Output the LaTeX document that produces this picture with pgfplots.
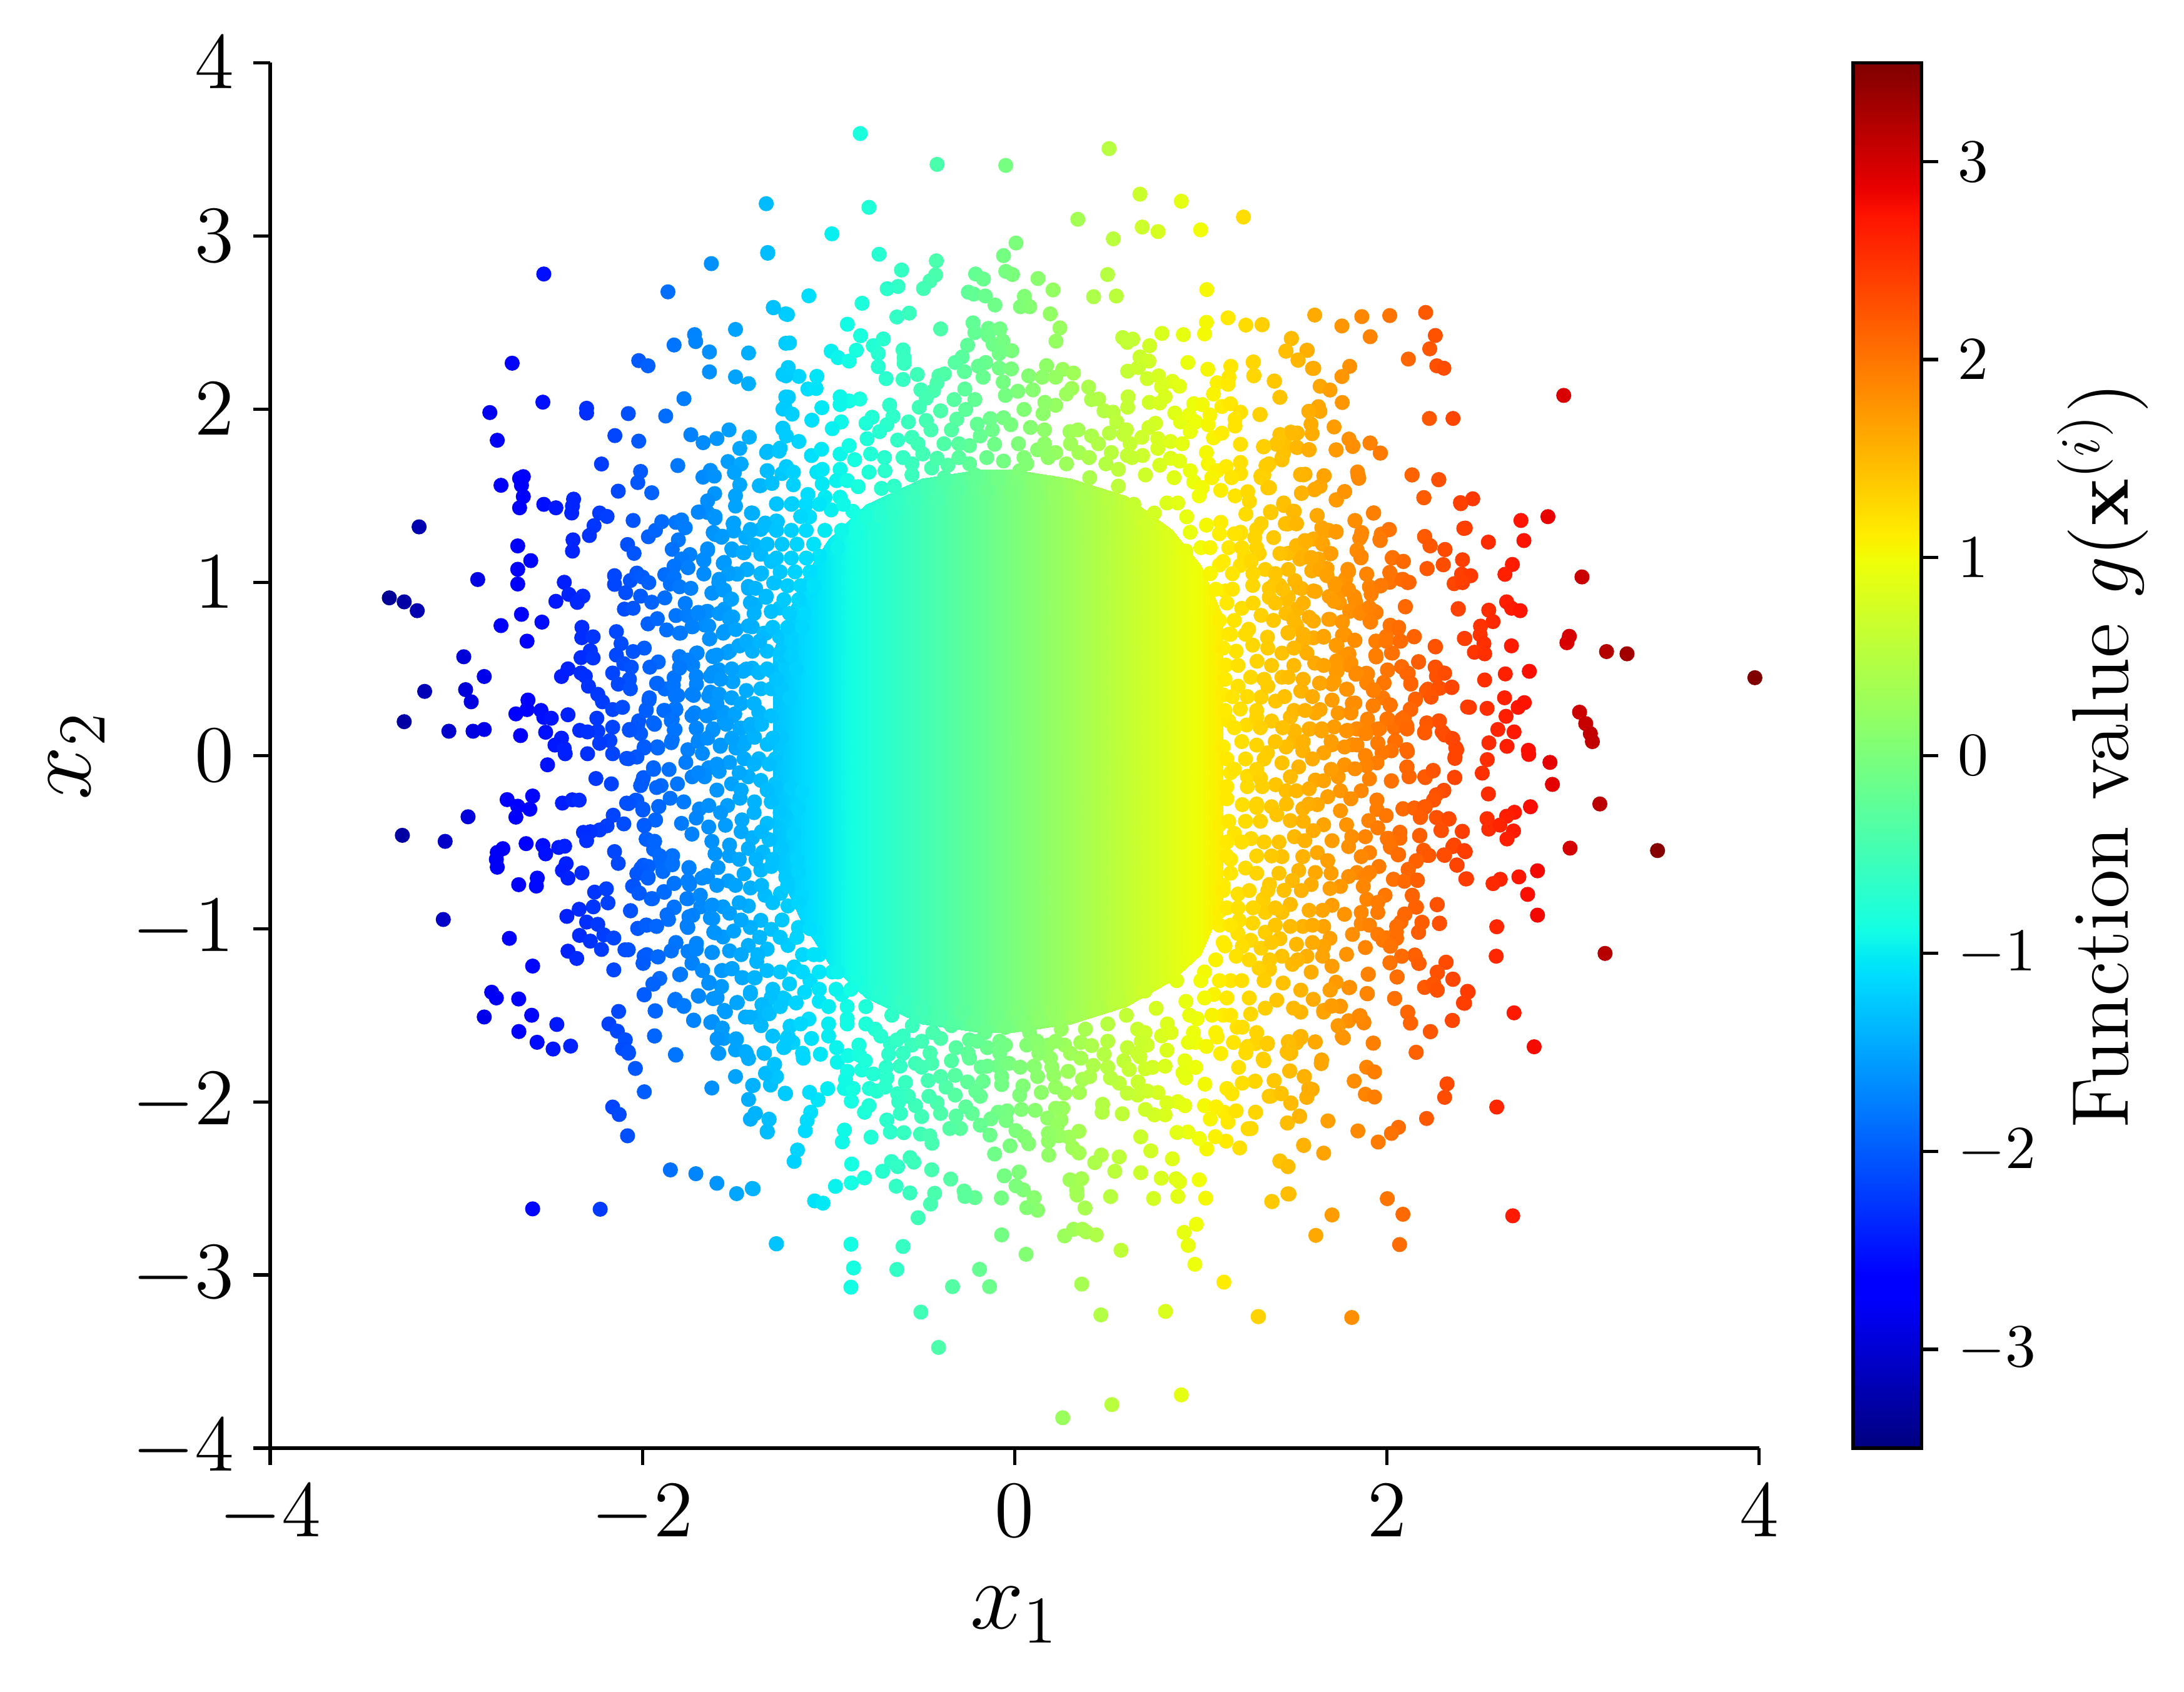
\documentclass[border=0pt]{standalone}
\usepackage{pgfplots}
\pgfplotsset{compat=1.18}

% jet as matplotlib has it
\pgfplotsset{colormap={mpljet}{rgb(0pt)=(0,0,.5); rgb(11pt)=(0,0,1); rgb(12.5pt)=(0,0,1); rgb(34pt)=(0,.86,1); rgb(35pt)=(0,.9,.968); rgb(37.5pt)=(.081,1,.887); rgb(64pt)=(.935,1,.032); rgb(65pt)=(.968,.963,0); rgb(66pt)=(1,.926,0); rgb(89pt)=(1,.074,0); rgb(91pt)=(.909,0,0); rgb(100pt)=(.5,0,0)}}

\begin{document}
\begin{tikzpicture}
\path[use as bounding box] (-48.5pt,-43.75pt) rectangle (343.5pt,260pt);
\begin{axis}[
    scale only axis,
    width=267.25pt, height=248.75pt,
    xmin=-4, xmax=4, ymin=-4, ymax=4,
    axis x line*=bottom, axis y line*=left,
    axis line style={-, line width=0.6pt},
    tick align=outside, tick style={line width=0.6pt, black}, major tick length=3pt,
    xtick={-4,-2,0,2,4}, ytick={-4,-3,-2,-1,0,1,2,3,4},
    tick label style={font=\fontsize{14.4}{16}\selectfont},
    xlabel={$x_1$}, ylabel={$x_2$},
    label style={font=\fontsize{17.28}{18}\selectfont},
    xlabel style={yshift=-1pt},
    ylabel shift=-2pt,
    colormap name=mpljet,
    point meta min=-3.5, point meta max=3.5,
    colorbar,
    colorbar shift/.style={xshift=10pt},
    colorbar style={
        scale only axis, width=12.25pt,
        ytick={-3,-2,-1,0,1,2,3},
        ytick pos=right,
        tick align=outside, major tick length=3pt,
        tick style={line width=0.6pt, black},
        axis line style={line width=0.6pt},
        yticklabel pos=right,
        tick label style={font=\fontsize{10.95}{12}\selectfont},
        ylabel={Function value $g(\mathbf{x}^{(i)})$},
        ylabel style={font=\fontsize{14.4}{16}\selectfont},
        ylabel shift=-3pt,
        samples=128,
    },
    scatter/use mapped color={draw=mapped color, fill=mapped color},
]
% the saturated core, where single dots cannot be told apart
\addplot[surf, shader=interp, mesh/rows=3, point meta=x, forget plot] table[row sep=\\] {
x y\\
-1.3 -0.6\\ -1.15 -0.95\\ -1.0 -1.2\\ -0.8 -1.4\\ -0.5 -1.55\\ -0.2 -1.6\\ 0.0 -1.6\\ 0.3 -1.55\\ 0.6 -1.45\\ 0.85 -1.3\\ 1.0 -1.15\\ 1.12 -0.85\\
-1.3 0\\ -1.15 0\\ -1.0 0\\ -0.8 0\\ -0.5 0\\ -0.2 0\\ 0.0 0\\ 0.3 0\\ 0.6 0\\ 0.85 0\\ 1.0 0\\ 1.12 0\\
-1.3 0.6\\ -1.15 1.0\\ -1.0 1.25\\ -0.8 1.45\\ -0.5 1.6\\ -0.2 1.65\\ 0.0 1.65\\ 0.3 1.6\\ 0.6 1.5\\ 0.85 1.3\\ 1.0 1.1\\ 1.12 0.8\\
};
\addplot[scatter, only marks, mark=*, mark size=1.15pt, scatter src=x, forget plot] table[row sep=\\] {
x y\\
-2.53 2.78\\ -2.70 2.265\\ -2.535 2.04\\ -2.82 1.98\\ -2.78 1.82\\ -2.76 1.56\\ -2.64 1.61\\ -2.66 1.60\\ -2.65 1.56\\ -2.64 1.495\\ -2.66 1.43\\ -2.53 1.45\\ -2.465 1.43\\ -2.37 1.48\\ -2.376 1.44\\ -2.38 1.40\\ -3.20 1.32\\ -2.67 1.21\\ -2.60 1.125\\ -2.67 1.075\\ -2.67 0.99\\ -2.885 1.016\\ -3.36 0.91\\ -3.28 0.887\\ -3.21 0.836\\ -2.65 0.815\\ -2.54 0.77\\ -2.76 0.75\\ -2.62 0.66\\ -2.96 0.57\\ -2.85 0.456\\ -3.17 0.37\\ -2.95 0.38\\ -2.92 0.31\\ -3.28 0.195\\ -3.04 0.14\\ -2.91 0.14\\ -2.85 0.15\\ -2.655 0.115\\ -2.68 0.24\\ -2.62 0.265\\ -2.615 0.32\\ -2.545 0.26\\ -2.53 0.22\\ -2.49 0.215\\ -2.40 0.235\\ -2.52 0.134\\ -2.435 0.10\\ -2.47 0.06\\ -2.42 0.04\\
-2.42 1.0\\ -2.395 0.93\\ -2.32 0.92\\ -2.35 0.884\\ -2.465 0.89\\ -2.325 0.74\\ -2.326 0.68\\ -2.265 0.685\\ -2.14 0.715\\ -2.115 0.646\\ -1.99 0.62\\ -2.05 0.60\\ -2.28 0.605\\ -2.33 0.565\\ -2.265 0.563\\ -2.14 0.58\\ -2.10 0.53\\ -2.06 0.51\\ -1.915 0.54\\ -1.96 0.51\\ -2.16 0.476\\ -2.40 0.50\\ -2.435 0.456\\ -2.33 0.476\\ -2.307 0.458\\ -2.29 0.40\\ -2.24 0.353\\ -2.215 0.31\\ -2.16 0.265\\ -2.107 0.278\\ -2.07 0.44\\ -2.13 0.412\\ -2.065 0.385\\ -2.245 0.215\\ -2.16 0.163\\ -2.24 0.14\\ -2.337 0.145\\ -2.295 0.136\\ -2.175 0.086\\ -2.23 0.07\\ -2.07 0.15\\
-2.30 2.005\\ -2.30 1.977\\ -2.076 1.974\\ -1.875 1.96\\ -1.777 2.06\\ -2.148 1.847\\ -2.02 1.815\\ -2.22 1.683\\ -2.01 1.64\\ -2.025 1.576\\ -1.95 1.517\\ -2.13 1.526\\ -1.81 1.674\\ -2.23 1.40\\ -2.19 1.38\\ -2.26 1.327\\ -2.285 1.27\\ -2.373 1.245\\ -2.376 1.18\\ -2.05 1.357\\ -1.968 1.263\\ -1.93 1.30\\ -1.896 1.35\\ -1.82 1.346\\ -1.79 1.36\\ -1.77 1.315\\ -1.807 1.245\\ -1.84 1.19\\ -2.08 1.218\\ -2.045 1.167\\ -1.745 1.16\\ -1.79 1.134\\ -1.83 1.093\\ -1.755 1.084\\ -2.15 1.038\\ -2.15 0.988\\ -2.065 1.01\\ -2.03 1.053\\ -2.0 1.03\\ -1.966 0.998\\ -2.09 0.94\\ -2.01 0.92\\ -1.95 0.885\\ -1.88 0.91\\ -2.097 0.845\\ -2.05 0.85\\ -1.97 0.76\\ -1.92 0.79\\ -1.87 0.725\\ -1.795 0.707\\ -1.82 0.808\\ -1.76 0.808\\ -1.77 0.878\\ -1.73 0.744\\ -1.88 1.044\\ -1.83 1.03\\ -1.85 0.99\\ -1.80 0.974\\ -1.74 0.965\\
-1.63 2.84\\ -1.863 2.677\\ -1.327 2.90\\ -1.296 2.585\\ -1.23 2.55\\ -1.50 2.46\\ -1.72 2.43\\ -1.714 2.39\\ -1.83 2.37\\ -1.64 2.33\\ -1.43 2.324\\ -2.02 2.28\\ -1.97 2.25\\ -1.64 2.215\\ -1.50 2.186\\ -1.43 2.147\\ -1.245 2.2\\ -1.23 2.38\\ -1.74 1.852\\ -1.674 1.806\\ -1.60 1.83\\ -1.535 1.88\\ -1.426 1.838\\ -1.477 1.773\\ -1.245 2.0\\ -1.245 1.885\\ -1.23 2.07\\ -1.327 1.757\\ -1.26 1.775\\ -1.54 1.697\\ -1.47 1.683\\ -1.506 1.633\\ -1.33 1.644\\ -1.635 1.646\\ -1.675 1.607\\ -1.614 1.613\\ -1.477 1.563\\ -1.365 1.558\\ -1.305 1.572\\ -1.25 1.628\\ -1.612 1.512\\ -1.65 1.47\\ -1.50 1.50\\ -1.50 1.44\\ -1.28 1.453\\ -1.414 1.40\\ -1.695 1.406\\ -1.65 1.403\\ -1.61 1.37\\ -1.51 1.342\\ -1.51 1.296\\ -1.62 1.287\\ -1.575 1.26\\ -1.34 1.342\\ -1.275 1.35\\ -1.42 1.305\\ -1.365 1.305\\ -1.445 1.26\\ -1.65 1.185\\ -1.515 1.185\\ -1.455 1.17\\ -1.67 1.126\\ -1.56 1.115\\ -1.44 1.075\\ -1.67 1.05\\ -1.533 1.053\\ -1.49 1.047\\ -1.36 1.053\\ -1.29 0.996\\ -1.59 1.0\\ -1.56 0.955\\ -1.625 0.937\\ -1.527 0.90\\ -1.43 0.965\\ -1.335 0.92\\ -1.395 0.87\\ -1.56 0.845\\ -1.65 0.832\\ -1.585 0.82\\ -1.515 0.80\\ -1.70 0.826\\ -1.665 0.753\\ -1.56 0.716\\ -1.64 0.673\\ -1.477 0.633\\ -1.41 0.743\\ -1.335 0.707\\ -1.545 0.593\\ -1.71 0.59\\ -1.80 0.568\\ -1.73 0.522\\ -1.62 0.574\\ -1.59 0.495\\ -1.80 0.504\\ -1.83 0.449\\ -1.92 0.417\\ -1.88 0.384\\ -1.71 0.412\\ -1.635 0.458\\ -1.46 0.486\\ -1.41 0.504\\ -1.515 0.427\\ -1.81 0.347\\ -1.725 0.347\\ -1.635 0.366\\ -1.965 0.32\\ -1.98 0.265\\ -1.88 0.26\\ -1.82 0.265\\ -1.935 0.18\\ -2.02 0.20\\ -1.845 0.20\\ -1.825 0.15\\ -1.72 0.246\\ -1.62 0.246\\ -1.71 0.158\\ -1.62 0.154\\ -1.56 0.20\\ -1.47 0.158\\ -1.515 0.228\\ -1.455 0.08\\ -1.58 0.06\\ -1.70 0.08\\ -1.84 0.09\\ -1.92 0.05\\ -1.99 0.05\\ -2.01 0.126\\
-2.51 -0.054\\ -2.25 -0.133\\ -2.167 -0.164\\ -2.085 -0.017\\ -2.03 -0.008\\ -2.16 0.01\\ -2.295 0.01\\ -2.415 0.01\\ -2.01 -0.174\\ -1.995 -0.128\\ -1.94 -0.08\\ -1.90 -0.174\\ -2.727 -0.255\\ -2.59 -0.234\\ -2.67 -0.293\\ -2.605 -0.31\\ -2.68 -0.356\\ -2.937 -0.354\\ -2.43 -0.275\\ -2.377 -0.256\\ -2.34 -0.258\\ -3.29 -0.461\\ -3.06 -0.496\\ -2.085 -0.275\\ -2.03 -0.26\\ -1.998 -0.315\\ -1.912 -0.295\\ -1.93 -0.373\\ -2.157 -0.345\\ -2.10 -0.395\\ -2.19 -0.406\\ -2.23 -0.43\\ -2.28 -0.44\\ -2.317 -0.444\\ -2.30 -0.492\\ -1.99 -0.406\\ -1.98 -0.483\\ -1.935 -0.496\\ -1.94 -0.542\\ -2.75 -0.538\\ -2.78 -0.56\\ -2.785 -0.6\\ -2.78 -0.645\\ -2.625 -0.509\\ -2.535 -0.52\\ -2.52 -0.568\\ -2.45 -0.531\\ -2.418 -0.524\\ -2.15 -0.555\\ -2.13 -0.623\\ -2.41 -0.625\\ -2.43 -0.664\\ -2.40 -0.708\\ -2.325 -0.678\\ -2.565 -0.708\\ -2.57 -0.754\\ -2.665 -0.746\\ -2.257 -0.789\\ -2.194 -0.77\\ -2.264 -0.874\\ -2.185 -0.851\\ -2.34 -0.888\\ -2.406 -0.929\\ -3.07 -0.947\\ -2.715 -1.056\\ -2.30 -0.962\\ -2.24 -0.975\\ -2.207 -1.036\\ -2.154 -1.054\\ -2.338 -1.039\\ -2.28 -1.072\\ -2.22 -1.12\\ -2.40 -1.13\\ -2.353 -1.172\\ -2.094 -1.122\\ -2.59 -1.216\\ -2.154 -1.238\\ -2.81 -1.367\\ -2.785 -1.40\\ -2.665 -1.406\\ -2.85 -1.51\\ -2.595 -1.50\\ -2.46 -1.553\\ -2.664 -1.594\\ -2.566 -1.656\\ -2.48 -1.695\\ -2.386 -1.678\\ -2.128 -1.478\\ -2.18 -1.55\\ -2.135 -1.592\\ -2.092 -1.642\\ -2.107 -1.693\\ -2.076 -1.712\\ -2.038 -1.807\\ -1.99 -1.942\\ -2.16 -2.03\\ -2.125 -2.073\\ -2.08 -2.196\\ -1.85 -2.393\\ -1.713 -2.415\\ -1.60 -2.47\\ -1.494 -2.53\\ -1.41 -2.50\\ -2.59 -2.618\\ -2.227 -2.62\\ -1.28 -2.82\\ -1.82 -1.73\\ -1.93 -1.476\\ -1.935 -1.62\\ -1.99 -1.382\\ -1.725 -1.53\\ -1.94 -1.32\\ -1.908 -1.288\\ -1.995 -1.2\\ -1.977 -1.15\\ -1.915 -1.163\\ -1.845 -1.128\\ -1.82 -1.08\\ -2.025 -0.999\\ -1.977 -0.98\\ -1.925 -0.986\\ -2.064 -0.897\\ -1.83 -0.875\\ -1.86 -0.947\\ -2.047 -0.754\\ -2.017 -0.794\\ -2.025 -0.68\\ -1.97 -0.708\\ -1.995 -0.634\\ -1.905 -0.616\\ -1.838 -0.579\\ -1.838 -0.625\\ -1.89 -0.67\\ -1.83 -0.739\\ -1.882 -0.79\\ -1.953 -0.827\\ -1.75 -0.647\\ -1.755 -0.827\\ -1.687 -0.874\\ -1.76 -0.984\\ -1.73 -0.923\\ -1.68 -0.708\\ -1.65 -0.70\\ -1.747 -0.745\\ -1.635 -0.938\\ -1.624 -0.864\\ -1.567 -0.874\\ -1.617 -1.02\\ -1.567 -1.048\\ -1.71 -1.085\\ -1.755 -1.131\\ -1.624 -1.137\\ -1.677 -1.242\\ -1.732 -1.196\\ -1.80 -1.266\\ -1.575 -1.242\\ -1.518 -1.23\\ -1.462 -1.283\\ -1.395 -1.284\\ -1.575 -1.334\\ -1.642 -1.31\\ -1.698 -1.39\\ -1.62 -1.404\\ -1.827 -1.417\\ -1.777 -1.444\\ -1.42 -1.367\\ -1.49 -1.426\\ -1.56 -1.472\\ -1.34 -1.444\\ -1.32 -1.49\\ -1.245 -1.40\\ -1.624 -1.537\\ -1.575 -1.583\\ -1.563 -1.634\\ -1.447 -1.51\\ -1.377 -1.51\\ -1.363 -1.56\\ -1.495 -1.64\\ -1.50 -1.70\\ -1.447 -1.71\\ -1.43 -1.75\\ -1.59 -1.72\\ -1.345 -1.72\\ -1.29 -1.784\\ -1.237 -1.684\\ -1.50 -1.854\\ -1.335 -1.835\\ -1.28 -1.855\\ -1.312 -1.90\\ -1.408 -1.905\\ -1.627 -1.92\\ -1.233 -1.95\\ -1.43 -1.986\\ -1.395 -2.067\\ -1.42 -2.10\\ -1.32 -2.10\\ -1.33 -2.17\\
1.33 2.488\\ 1.612 2.543\\ 1.758 2.48\\ 1.865 2.534\\ 2.015 2.54\\ 2.208 2.558\\ 2.26 2.425\\ 2.23 2.348\\ 1.91 2.418\\ 1.486 2.407\\ 1.457 2.335\\ 1.572 2.339\\ 1.523 2.282\\ 1.283 2.272\\ 1.286 2.195\\ 1.607 2.235\\ 1.80 2.247\\ 1.758 2.188\\ 2.115 2.289\\ 2.268 2.25\\ 2.306 2.236\\ 1.394 2.162\\ 1.641 2.132\\ 1.694 2.11\\ 1.425 2.068\\ 1.76 2.038\\ 2.95 2.079\\ 2.228 1.946\\ 2.355 1.946\\ 1.317 1.968\\ 1.583 1.987\\ 1.632 2.014\\ 1.64 1.987\\ 1.592 1.913\\ 1.598 1.858\\ 1.716 1.897\\ 1.426 1.852\\ 1.483 1.867\\ 1.518 1.862\\ 1.337 1.782\\ 1.41 1.803\\ 1.45 1.803\\ 1.516 1.779\\ 1.581 1.766\\ 1.445 1.747\\ 1.436 1.707\\ 1.727 1.764\\ 1.796 1.827\\ 1.816 1.784\\ 1.909 1.804\\ 1.964 1.746\\ 1.35 1.674\\ 1.323 1.615\\ 1.536 1.622\\ 1.56 1.624\\ 1.661 1.615\\ 1.842 1.637\\ 1.849 1.60\\ 2.135 1.62\\ 2.279 1.593\\ 1.641 1.554\\ 1.61 1.534\\ 1.541 1.513\\ 1.773 1.524\\ 1.729 1.475\\ 2.199 1.488\\ 2.395 1.46\\ 2.461 1.482\\ 2.72 1.357\\ 2.865 1.379\\ 1.36 1.545\\ 1.445 1.449\\ 1.496 1.41\\ 1.514 1.338\\ 1.468 1.337\\ 1.625 1.386\\ 1.829 1.355\\ 1.927 1.399\\ 2.421 1.313\\ 2.545 1.232\\ 2.736 1.241\\ 2.202 1.263\\ 2.233 1.21\\ 2.312 1.189\\ 2.011 1.305\\ 1.969 1.278\\ 1.964 1.241\\ 1.864 1.287\\ 1.854 1.254\\ 1.65 1.315\\ 1.727 1.29\\ 1.687 1.30\\ 1.605 1.25\\ 1.654 1.22\\ 1.559 1.241\\ 1.541 1.204\\ 1.696 1.165\\ 1.84 1.186\\ 1.86 1.141\\ 2.028 1.14\\ 2.088 1.121\\ 2.406 1.13\\ 2.303 1.101\\ 2.215 1.079\\ 2.674 1.103\\ 2.634 1.046\\ 3.048 1.031\\ 2.401 1.047\\ 2.45 1.038\\ 2.361 0.992\\ 2.406 0.998\\ 1.589 1.14\\ 1.532 1.134\\ 1.632 1.134\\ 1.468 1.167\\ 1.678 1.08\\ 1.596 1.066\\ 1.678 1.038\\ 1.79 1.075\\ 1.778 1.02\\ 1.891 1.047\\ 2.015 1.057\\ 2.015 1.0\\ 2.079 1.016\\ 2.111 0.998\\ 1.966 0.979\\ 1.906 0.974\\ 1.915 0.931\\ 1.72 0.992\\ 1.505 1.01\\ 1.541 0.964\\ 1.368 0.964\\ 1.423 0.983\\ 1.605 0.95\\ 1.69 0.918\\ 1.76 0.955\\ 1.824 0.918\\ 1.833 0.881\\ 1.368 0.913\\ 1.465 0.9\\ 1.745 0.881\\ 2.643 0.887\\ 2.67 0.85\\ 2.716 0.836\\ 2.547 0.839\\ 2.383 0.845\\ 2.099 0.86\\ 1.909 0.845\\ 1.942 0.826\\ 2.57 0.773\\ 2.503 0.747\\ 2.501 0.697\\ 2.419 0.675\\ 2.98 0.688\\ 2.967 0.651\\ 2.669 0.633\\ 3.18 0.60\\ 3.29 0.587\\ 2.521 0.646\\ 2.47 0.596\\ 2.525 0.587\\ 3.977 0.449\\ 2.636 0.471\\ 2.765 0.486\\ 2.525 0.436\\ 2.261 0.627\\ 2.146 0.685\\ 2.06 0.731\\ 2.017 0.751\\ 1.997 0.688\\ 1.942 0.66\\ 2.07 0.66\\ 2.024 0.592\\ 1.942 0.569\\ 1.687 0.786\\ 1.76 0.771\\ 1.805 0.836\\ 1.86 0.826\\ 1.909 0.775\\ 1.518 0.845\\ 1.605 0.776\\ 1.514 0.75\\ 1.468 0.709\\ 1.605 0.679\\ 1.66 0.688\\ 1.774 0.697\\ 1.827 0.666\\ 1.732 0.633\\ 1.796 0.587\\ 1.729 0.546\\ 1.796 0.522\\ 1.732 0.486\\ 1.833 0.469\\ 1.896 0.471\\ 1.891 0.421\\ 2.004 0.491\\ 2.079 0.513\\ 2.106 0.476\\ 2.17 0.539\\ 2.261 0.51\\ 2.304 0.476\\ 2.266 0.458\\ 2.128 0.412\\ 1.982 0.421\\ 1.787 0.382\\ 1.927 0.375\\ 1.978 0.333\\ 2.017 0.292\\ 2.212 0.373\\ 2.284 0.388\\ 2.348 0.392\\ 2.237 0.338\\ 2.153 0.32\\ 2.128 0.265\\ 1.926 0.288\\ 1.814 0.301\\ 1.807 0.25\\ 1.641 0.417\\ 1.705 0.412\\ 1.541 0.371\\ 1.705 0.32\\ 1.641 0.265\\ 2.443 0.278\\ 2.538 0.272\\ 2.632 0.333\\ 2.705 0.278\\ 2.738 0.305\\ 2.64 0.226\\ 2.596 0.15\\ 2.683 0.136\\ 2.548 0.073\\ 2.645 0.053\\ 2.76 0.03\\ 3.035 0.25\\ 3.068 0.184\\ 3.093 0.126\\ 3.104 0.08\\ 1.896 0.21\\ 1.838 0.154\\ 2.006 0.21\\ 1.96 0.154\\ 2.04 0.16\\ 2.106 0.173\\ 2.093 0.22\\ 2.215 0.187\\ 2.202 0.136\\ 2.279 0.2\\ 2.297 0.136\\ 2.348 0.099\\ 2.37 0.044\\ 2.042 0.08\\ 1.951 0.071\\ 2.106 0.034\\ 1.887 0.126\\ 1.787 0.145\\ 1.587 0.154\\ 1.65 0.154\\ 1.496 0.08\\ 1.705 0.062\\ 1.814 0.062\\
2.365 -0.017\\ 2.539 -0.024\\ 2.762 0.006\\ 2.876 -0.04\\ 2.889 -0.167\\ 2.512 -0.102\\ 2.365 -0.128\\ 2.248 -0.086\\ 2.206 -0.128\\ 2.119 -0.121\\ 2.106 -0.068\\ 2.024 -0.148\\ 2.545 -0.222\\ 3.144 -0.28\\ 2.771 -0.296\\ 2.685 -0.328\\ 2.643 -0.351\\ 2.538 -0.365\\ 2.547 -0.425\\ 2.607 -0.402\\ 2.68 -0.436\\ 2.645 -0.482\\ 2.984 -0.535\\ 3.454 -0.549\\ 2.306 -0.201\\ 2.252 -0.257\\ 2.206 -0.298\\ 2.146 -0.305\\ 2.086 -0.309\\ 2.179 -0.358\\ 2.266 -0.358\\ 2.334 -0.367\\ 2.29 -0.432\\ 2.405 -0.438\\ 2.177 -0.461\\ 2.07 -0.443\\ 2.006 -0.478\\ 2.07 -0.478\\ 2.02 -0.53\\ 2.06 -0.574\\ 2.361 -0.517\\ 2.421 -0.556\\ 2.306 -0.574\\ 2.215 -0.577\\ 2.197 -0.547\\ 2.157 -0.611\\ 2.375 -0.632\\ 2.428 -0.712\\ 2.115 -0.657\\ 2.035 -0.715\\ 2.093 -0.726\\ 2.162 -0.719\\ 2.609 -0.715\\ 2.57 -0.74\\ 2.709 -0.701\\ 2.809 -0.666\\ 2.756 -0.802\\ 2.809 -0.922\\ 2.59 -0.989\\ 2.587 -1.159\\ 3.172 -1.143\\ 2.27 -0.862\\ 2.137 -0.811\\ 2.153 -0.874\\ 2.095 -0.915\\ 2.188 -0.963\\ 2.283 -0.968\\ 2.17 -1.021\\ 2.075 -0.961\\ 2.051 -1.019\\ 1.997 -1.053\\ 2.02 -1.099\\ 2.079 -1.159\\ 2.15 -1.152\\ 2.17 -1.2\\ 2.017 -1.198\\ 2.317 -1.194\\ 2.272 -1.254\\ 2.355 -1.293\\ 2.202 -1.339\\ 2.252 -1.318\\ 2.27 -1.355\\ 2.055 -1.279\\ 2.436 -1.366\\ 2.417 -1.431\\ 2.042 -1.403\\ 2.111 -1.482\\ 2.126 -1.546\\ 2.352 -1.53\\ 2.233 -1.594\\ 2.683 -1.486\\ 2.157 -1.714\\ 2.791 -1.682\\ 1.927 -1.661\\ 1.9 -1.263\\ 1.895 -1.376\\ 1.796 -1.341\\ 1.696 -1.353\\ 1.749 -1.449\\ 1.702 -1.445\\ 1.66 -1.472\\ 1.856 -1.502\\ 1.876 -1.544\\ 1.793 -1.532\\ 1.738 -1.56\\ 1.76 -1.624\\ 1.614 -1.654\\ 1.538 -1.622\\ 1.472 -1.652\\ 1.514 -1.659\\ 1.355 -1.666\\ 1.295 -1.663\\ 1.477 -1.721\\ 1.647 -1.779\\ 1.337 -1.76\\ 1.477 -1.822\\ 1.556 -1.854\\ 1.394 -1.878\\ 1.292 -1.88\\ 1.891 -1.8\\ 1.933 -1.827\\ 1.824 -1.88\\ 1.598 -1.928\\ 1.432 -1.951\\ 1.377 -1.967\\ 1.569 -1.974\\ 1.884 -1.956\\ 1.933 -1.972\\ 1.485 -2.009\\ 2.323 -1.896\\ 2.31 -1.974\\ 2.59 -2.03\\ 1.294 -2.06\\ 1.465 -2.122\\ 1.53 -2.082\\ 1.683 -2.11\\ 2.213 -2.096\\ 2.062 -2.147\\ 2.024 -2.182\\ 1.844 -2.168\\ 1.953 -2.232\\ 1.552 -2.25\\ 1.66 -2.296\\ 1.425 -2.343\\ 1.468 -2.373\\ 1.27 -2.154\\ 1.474 -2.532\\ 1.381 -2.575\\ 2.002 -2.559\\ 1.705 -2.653\\ 2.086 -2.649\\ 2.676 -2.658\\ 1.618 -2.771\\ 2.068 -2.824\\ 1.308 -3.24\\ 1.811 -3.245\\
-0.83 3.591\\ 0.507 3.504\\ -0.417 3.413\\ -0.048 3.407\\ -1.335 3.186\\ -0.783 3.165\\ 0.673 3.241\\ 0.895 3.2\\ 0.339 3.096\\ 0.685 3.051\\ 0.77 3.025\\ 0.999 3.035\\ 1.229 3.109\\ -0.982 3.012\\ -1.327 2.904\\ -0.729 2.894\\ 0.53 2.983\\ 0.007 2.959\\ -0.06 2.886\\ -0.421 2.856\\ -0.608 2.803\\ -0.425 2.775\\ -0.455 2.74\\ -0.49 2.696\\ -0.627 2.708\\ -0.685 2.695\\ -0.21 2.78\\ -0.168 2.751\\ -0.048 2.795\\ -0.012 2.777\\ 0.125 2.754\\ 0.206 2.688\\ 0.499 2.777\\ 0.424 2.649\\ 0.546 2.653\\ 1.032 2.69\\ -0.249 2.675\\ -0.22 2.664\\ -0.158 2.653\\ -0.106 2.601\\ 0.052 2.651\\ 0.031 2.591\\ 0.081 2.591\\ -1.106 2.654\\ -1.297 2.587\\ -1.221 2.546\\ -0.82 2.611\\ 0.191 2.55\\ 0.243 2.469\\ 0.222 2.392\\ -0.633 2.532\\ -0.567 2.554\\ -0.398 2.463\\ -0.899 2.49\\ -0.828 2.424\\ -1.21 2.382\\ -0.76 2.366\\ -0.706 2.405\\ -0.986 2.334\\ -0.949 2.297\\ -0.851 2.34\\ -0.89 2.277\\ -0.733 2.321\\ -0.733 2.245\\ -0.6 2.342\\ -0.594 2.297\\ -0.594 2.264\\ -0.224 2.498\\ -0.214 2.442\\ -0.253 2.369\\ -0.141 2.466\\ -0.079 2.463\\ -0.143 2.425\\ -0.116 2.374\\ -0.064 2.393\\ -0.016 2.337\\ -0.083 2.321\\ -0.282 2.301\\ -0.32 2.269\\ -0.156 2.269\\ -0.195 2.248\\ -0.27 2.216\\ -0.083 2.237\\ -0.018 2.232\\ -0.17 2.184\\ -0.523 2.2\\ -0.691 2.176\\ -0.6 2.171\\ -0.407 2.192\\ -0.378 2.203\\ -0.417 2.151\\ 0.171 2.251\\ 0.258 2.229\\ 0.316 2.208\\ 0.075 2.192\\ 0.148 2.184\\ -0.062 2.156\\ 0.58 2.413\\ 0.634 2.404\\ 0.605 2.385\\ 0.725 2.366\\ 0.791 2.437\\ 0.906 2.43\\ 1.02 2.434\\ 1.03 2.501\\ 1.146 2.527\\ 1.242 2.485\\ 1.329 2.487\\ 0.93 2.269\\ 1.037 2.23\\ 1.161 2.247\\ 1.281 2.271\\ 1.284 2.192\\ 0.673 2.301\\ 0.721 2.277\\ 0.607 2.219\\ 0.663 2.24\\ 0.712 2.176\\ 0.773 2.192\\ 1.487 2.408\\ 1.458 2.334\\ 1.57 2.34\\ 1.522 2.284\\ 1.6 2.235\\ 1.396 2.161\\ 1.425 2.068\\ 1.319 1.969\\ 1.58 1.987\\ 1.088 2.152\\ 1.151 2.184\\ 1.146 2.143\\ 1.068 2.087\\ 0.847 2.16\\ 0.885 2.132\\ 0.789 2.13\\ 0.808 2.071\\ 0.723 2.039\\ 0.779 2.035\\ 0.609 2.071\\ 0.607 2.011\\ 0.397 2.127\\ 0.413 2.055\\ 0.451 2.058\\ 0.306 2.119\\ 0.278 2.087\\ 0.22 2.184\\ 0.098 2.111\\ 0.017 2.103\\ -0.05 2.079\\ -0.268 2.116\\ -0.504 2.111\\ -0.436 2.106\\ -0.475 2.063\\ -0.326 2.055\\ -0.214 2.055\\ -0.263 1.998\\ -0.513 2.011\\ -0.672 2.023\\ -0.832 2.058\\ -0.89 2.047\\ -0.938 2.071\\ -0.938 2.026\\ -1.036 2.008\\ -1.216 2.069\\ -1.235 2.01\\ -1.196 1.971\\ -1.09 1.936\\ -0.932 1.926\\ -0.98 1.887\\ -1.063 2.189\\ -1.111 2.116\\ -1.067 2.119\\ -1.16 2.189\\ -1.229 2.192\\ -1.217 2.24\\ -0.766 1.953\\ -0.799 1.918\\ -0.654 1.958\\ -0.687 1.91\\ 0.05 1.998\\ 0.152 1.974\\ 0.22 2.022\\ 0.162 2.039\\ 0.48 1.99\\ 0.528 1.982\\ 0.548 1.926\\ 0.756 1.918\\ 0.721 1.894\\ 0.86 1.977\\ 0.891 1.926\\ 0.937 1.966\\ 0.972 1.926\\ 0.962 2.031\\ 1.007 2.026\\ 1.049 1.966\\ 1.039 1.91\\ 1.113 2.015\\ 1.159 2.031\\ 1.213 1.982\\ 1.184 1.942\\ 1.184 1.902\\
-1.246 1.89\\ -1.16 1.813\\ -1.227 1.845\\ -1.333 1.749\\ -1.266 1.757\\ -1.092 1.732\\ -1.038 1.768\\ -0.938 1.74\\ -0.89 1.789\\ -0.793 1.829\\ -0.726 1.87\\ -0.629 1.821\\ -0.552 1.837\\ -0.571 1.926\\ -0.475 1.934\\ -0.398 1.99\\ -0.311 1.942\\ -0.201 1.913\\ -0.131 1.945\\ -0.06 1.95\\ -0.021 1.91\\ 0.085 1.894\\ 0.297 1.87\\ 0.413 1.845\\ 0.509 1.861\\ 0.586 1.853\\ 0.683 1.837\\ 0.769 1.829\\ 0.837 1.813\\ 0.943 1.87\\ 1.068 1.834\\ 1.113 1.861\\ 1.213 1.797\\ 1.339 1.784\\ 1.425 1.853\\ 1.493 1.861\\ 1.518 1.778\\ 1.58 1.765\\ 1.406 1.797\\
-1.329 1.644\\ -1.227 1.668\\ -1.189 1.636\\ -1.189 1.563\\ -1.372 1.558\\ -1.304 1.571\\ -1.034 1.568\\ -1.063 1.636\\ -1.034 1.652\\ -0.938 1.652\\ -0.957 1.587\\ -0.899 1.587\\ -0.841 1.552\\ -0.783 1.636\\ -0.697 1.644\\ -0.86 1.708\\ -0.774 1.741\\ -0.716 1.542\\ -0.648 1.555\\ -0.552 1.62\\ -0.552 1.684\\ -0.446 1.66\\ -0.359 1.676\\ -0.494 1.741\\ -0.417 1.716\\ -0.378 1.604\\ -0.243 1.684\\ -0.214 1.62\\ -0.185 1.845\\ -0.108 1.797\\ -0.243 1.789\\ -0.06 1.7\\ -0.089 1.587\\ 0.027 1.644\\ 0.065 1.684\\ 0.007 1.555\\ 0.123 1.765\\ 0.22 1.749\\ 0.345 1.749\\ 0.278 1.684\\ 0.403 1.604\\ 0.49 1.684\\ 0.519 1.749\\ 0.557 1.652\\ 0.605 1.732\\ 0.687 1.732\\ 0.769 1.773\\ 0.837 1.716\\ 0.885 1.7\\ 0.779 1.676\\ 0.702 1.62\\ 0.557 1.555\\ 0.856 1.604\\ 0.943 1.644\\ 0.962 1.579\\ 1.007 1.547\\ 0.991 1.499\\ 0.818 1.458\\ 0.876 1.458\\ 1.03 1.749\\ 1.04 1.684\\ 1.088 1.644\\ 1.136 1.668\\ 1.213 1.692\\ 1.213 1.628\\ 1.059 1.604\\ 1.165 1.604\\ 1.107 1.531\\ 1.184 1.499\\ 1.261 1.467\\ 1.252 1.523\\ 1.339 1.62\\ 1.367 1.684\\ 1.367 1.547\\ 1.541 1.515\\ 1.551 1.62\\ 1.445 1.458\\ 1.502 1.41\\ 1.377 1.402\\ 1.454 1.338\\ 1.512 1.338\\ 1.242 1.394\\ 1.3 1.306\\ 1.213 1.289\\ 1.107 1.346\\ 1.03 1.33\\ 0.924 1.378\\ 0.943 1.289\\ 0.702 1.338\\ -1.279 1.452\\ -1.196 1.454\\ -1.121 1.45\\ -1.111 1.507\\ -1.408 1.399\\ -1.343 1.335\\ -1.281 1.354\\ -1.102 1.378\\ -0.986 1.418\\ -1.019 1.491\\ -0.938 1.491\\ -0.87 1.41\\
0.258 -3.824\\ 0.522 -3.748\\ 0.895 -3.692\\ -0.409 -3.418\\ -0.504 -3.214\\ 0.463 -3.23\\ 0.81 -3.21\\ 1.31 -3.24\\ 0.36 -3.052\\ 1.124 -3.041\\ -0.88 -3.07\\ -0.334 -3.067\\ -0.135 -3.067\\ -0.866 -2.959\\ -0.633 -2.968\\ -0.189 -2.967\\ 0.968 -2.938\\ 0.571 -2.857\\ 0.061 -2.88\\ -0.88 -2.822\\ -0.6 -2.835\\ -1.281 -2.819\\ 0.932 -2.829\\ 0.91 -2.754\\ 0.976 -2.707\\ -0.07 -2.768\\ 0.268 -2.774\\ 0.316 -2.736\\ 0.364 -2.736\\ 0.384 -2.751\\ 0.438 -2.768\\ -0.519 -2.669\\ 0.123 -2.626\\ 0.065 -2.611\\ 0.378 -2.613\\ 1.383 -2.576\\ 1.468 -2.531\\ 1.026 -2.556\\ 0.746 -2.558\\ 0.876 -2.546\\ 0.515 -2.547\\ 0.335 -2.538\\ 0.333 -2.508\\ 0.104 -2.553\\ 0.046 -2.508\\ 0.007 -2.485\\ -0.072 -2.555\\ -0.214 -2.553\\ -0.268 -2.546\\ -0.272 -2.515\\ -0.43 -2.528\\ -0.452 -2.59\\ -0.563 -2.526\\ -0.637 -2.487\\ -1.075 -2.572\\ -1.03 -2.585\\ -0.963 -2.488\\ -0.878 -2.468\\ -0.807 -2.439\\ -1.405 -2.502\\ -0.71 -2.401\\ -0.662 -2.345\\ -0.629 -2.374\\ -0.876 -2.359\\ -0.562 -2.322\\ -0.542 -2.348\\ -0.446 -2.392\\ -0.344 -2.446\\ -0.056 -2.427\\ 0.023 -2.405\\ 0.297 -2.45\\ 0.359 -2.444\\ 0.677 -2.409\\ 0.787 -2.441\\ 0.866 -2.444\\ 0.885 -2.462\\ 0.991 -2.45\\ 0.538 -2.401\\ 0.561 -2.318\\ 0.465 -2.307\\ 0.43 -2.351\\ 0.847 -2.329\\ 0.731 -2.283\\ 1.425 -2.341\\ 1.468 -2.374\\ 1.553 -2.252\\ 1.209 -2.266\\ 1.032 -2.272\\ 1.136 -2.227\\ 1.078 -2.201\\ 0.991 -2.212\\ 0.93 -2.174\\ 0.872 -2.177\\ 0.677 -2.202\\ 1.254 -2.155\\ 1.466 -2.122\\ 1.531 -2.084\\ 1.294 -2.06\\ 1.146 -2.117\\ 1.051 -2.099\\ 1.126 -2.06\\ 1.19 -2.052\\ 1.02 -2.022\\ 1.082 -2.029\\ 1.483 -2.006\\ 1.367 -1.968\\ 1.431 -1.953\\ 1.57 -1.973\\ 1.58 -1.923\\ 1.394 -1.877\\ 1.479 -1.821\\ 1.556 -1.854\\ 1.29 -1.882\\ 1.223 -1.892\\ 1.14 -1.923\\ 1.167 -1.953\\ 1.022 -1.898\\ 0.918 -1.862\\ 1.203 -1.801\\ 1.339 -1.763\\ 1.107 -1.721\\ 1.242 -1.718\\ 1.252 -1.68\\ 1.3 -1.657\\ 1.358 -1.661\\ 1.474 -1.657\\ 1.483 -1.718\\ 1.531 -1.626\\ 0.972 -1.801\\ 0.904 -1.832\\ 0.914 -1.763\\ 0.972 -1.657\\ 1.03 -1.68\\ 1.088 -1.626\\ 1.175 -1.657\\ 0.914 -2.022\\ 0.876 -1.999\\ 0.818 -2.006\\ 0.808 -2.075\\ 0.75 -2.075\\ 0.702 -2.044\\ 0.769 -1.946\\ 0.712 -1.938\\ 0.66 -1.961\\ 0.605 -1.95\\ 0.663 -1.885\\ 0.561 -1.892\\ 0.515 -1.862\\ 0.578 -2.069\\ 0.472 -2.014\\ 0.47 -2.06\\ 0.347 -1.946\\ 0.268 -1.95\\ 0.22 -1.915\\ 0.143 -1.946\\ 0.044 -1.908\\ 0.027 -1.961\\ -0.07 -1.9\\ -0.07 -1.854\\ -0.17 -1.882\\ -0.253 -1.885\\ -0.185 -1.968\\ -0.209 -1.938\\ 0.258 -2.037\\ 0.22 -2.037\\ 0.11 -2.049\\ 0.036 -2.044\\ -0.041 -2.052\\ -0.089 -2.06\\ 0.177 -2.094\\ 0.249 -2.105\\ -0.046 -2.108\\ -0.128 -2.098\\ 0.229 -2.136\\ 0.345 -2.17\\ 0.291 -2.204\\ 0.239 -2.196\\ 0.181 -2.181\\ 0.181 -2.227\\ 0.312 -2.265\\ 0.345 -2.295\\ 0.183 -2.307\\ 0.007 -2.166\\ 0.052 -2.201\\ 0.075 -2.242\\ -0.025 -2.254\\ -0.108 -2.301\\ -0.133 -2.192\\ -0.185 -2.135\\ -0.292 -2.154\\ -0.349 -2.154\\ -0.228 -2.067\\ -0.263 -2.029\\ -0.315 -2.082\\ -0.398 -2.067\\ -0.417 -2.006\\ -0.32 -1.961\\ -0.461 -1.968\\ -0.369 -1.915\\ -0.465 -1.877\\ -0.5 -2.085\\ -0.533 -2.022\\ -0.571 -1.968\\ -0.629 -1.953\\ -0.623 -1.999\\ -0.614 -2.067\\ -0.687 -2.105\\ -0.668 -2.174\\ -0.596 -2.178\\ -0.506 -2.186\\ -0.456 -2.196\\ -0.444 -2.239\\ -0.772 -2.204\\ -0.915 -2.163\\ -0.926 -2.231\\ -0.807 -2.06\\ -0.783 -2.022\\ -0.878 -1.996\\ -0.915 -1.923\\ -0.868 -1.923\\ -0.781 -1.923\\ -0.741 -1.938\\ -0.697 -1.915\\ -0.587 -1.888\\ -1.005 -1.924\\ -1.057 -1.988\\ -1.102 -1.945\\ -1.096 -2.06\\ -1.115 -2.108\\ -1.125 -2.167\\ -1.167 -2.278\\ -1.185 -2.344\\ -1.231 -1.953\\ -1.312 -1.903\\ -1.283 -1.854\\ -1.339 -1.836\\ -1.291 -1.784\\ -1.347 -1.718\\ -1.405 -1.905\\ -1.32 -2.102\\ -1.329 -2.174\\ -1.393 -2.067\\ -1.237 -1.683\\ -1.192 -1.657\\ -1.217 -1.623\\ -1.136 -1.748\\ -1.044 -1.725\\ -1.092 -1.634\\ -0.953 -1.771\\ -0.895 -1.733\\ -0.957 -1.687\\ -0.899 -1.824\\ -0.909 -1.87\\ -0.837 -1.672\\ -0.835 -1.73\\ -0.803 -1.763\\ -0.822 -1.816\\ -0.76 -1.839\\ -0.691 -1.801\\ -0.687 -1.862\\ -0.616 -1.794\\ -0.677 -1.725\\ -0.668 -1.664\\ -0.633 -1.642\\ -0.533 -1.778\\ -0.446 -1.778\\ -0.398 -1.854\\ -0.32 -1.847\\ -0.552 -1.672\\ -0.455 -1.718\\ -0.398 -1.634\\ -0.315 -1.687\\ -0.243 -1.748\\ -0.34 -1.763\\ -0.089 -1.794\\ -0.147 -1.794\\ -0.031 -1.778\\ -0.243 -1.642\\ -0.147 -1.687\\ -0.05 -1.672\\ 0.104 -1.794\\ 0.123 -1.854\\ 0.21 -1.847\\ 0.287 -1.824\\ 0.364 -1.87\\ 0.403 -1.854\\ 0.422 -1.79\\ 0.355 -1.748\\ 0.191 -1.748\\ 0.065 -1.672\\ 0.181 -1.672\\ 0.268 -1.672\\ 0.355 -1.657\\ 0.413 -1.675\\ 0.48 -1.725\\ 0.586 -1.763\\ 0.615 -1.813\\ 0.673 -1.74\\ 0.702 -1.809\\ 0.74 -1.801\\ 0.808 -1.794\\ 0.818 -1.702\\ 0.712 -1.672\\ 0.605 -1.687\\ 0.789 -1.619\\ 0.933 -1.657\\
-1.70 1.405\\ -1.61 1.38\\ -1.513 1.338\\ -1.414 1.40\\ -1.34 1.328\\ -1.61 1.276\\ -1.571 1.266\\ -1.42 1.297\\ -1.397 1.214\\ -1.52 1.193\\ -1.65 1.193\\ -1.459 1.172\\ -1.364 1.162\\ -1.308 1.12\\ -1.672 1.131\\ -1.566 1.11\\ -1.437 1.073\\ -1.364 1.048\\ -1.493 1.048\\ -1.538 1.048\\ -1.67 1.048\\ -1.588 1.017\\ -1.295 0.996\\ -1.431 0.976\\ -1.392 0.965\\ -1.627 0.938\\ -1.566 0.955\\ -1.521 0.903\\ -1.42 0.882\\ -1.336 0.913\\ -1.263 0.851\\ -1.308 0.831\\ -1.655 0.831\\ -1.70 0.82\\ -1.588 0.82\\ -1.532 0.789\\ -1.644 0.748\\ -1.734 0.743\\ -1.801 0.706\\ -1.638 0.675\\ -1.566 0.706\\ -1.498 0.727\\ -1.431 0.748\\ -1.347 0.706\\ -1.263 0.685\\ -1.532 0.602\\ -1.482 0.634\\ -1.409 0.602\\ -1.33 0.602\\ -1.622 0.571\\ -1.706 0.592\\ -1.801 0.571\\ -1.756 0.551\\ -1.801 0.509\\ -1.622 0.478\\ -1.711 0.457\\ -1.515 0.426\\ -1.442 0.499\\ -1.375 0.478\\ -1.308 0.489\\ -1.23 0.509\\ -1.174 0.499\\ -1.924 0.416\\ -1.834 0.406\\ -1.823 0.343\\ -1.734 0.354\\ -1.644 0.343\\ -1.588 0.354\\ -1.521 0.333\\ -1.442 0.375\\ -1.364 0.385\\ -1.308 0.385\\ -1.252 0.385\\ -1.207 0.333\\ -1.734 0.229\\ -1.655 0.229\\ -1.823 0.271\\ -1.885 0.26\\ -1.963 0.333\\ -1.98 0.26\\ -1.84 0.209\\ -1.566 0.25\\ -1.504 0.24\\ -1.375 0.25\\ -1.308 0.229\\ -1.941 0.188\\ -2.025 0.178\\ -2.07 0.146\\ -1.711 0.157\\ -1.622 0.146\\ -1.476 0.157\\ -1.409 0.146\\ -1.829 0.146\\ -1.845 0.074\\ -1.918 0.043\\ -1.991 0.043\\ -1.756 0.033\\ -1.70 0.084\\ -1.678 0.012\\ -1.582 0.053\\ -1.498 0.043\\ -1.454 0.064\\ -1.398 0.105\\ -1.33 0.064\\ -1.252 0.105\\ -2.03 -0.009\\ -2.075 -0.019\\ -1.941 -0.071\\ -1.857 -0.081\\ -1.767 -0.04\\ -1.644 -0.071\\ -1.532 -0.04\\ -1.454 -0.019\\ -1.375 -0.019\\ -1.286 -0.019\\ -2.002 -0.154\\ -1.924 -0.185\\ -1.812 -0.164\\ -1.733 -0.123\\ -1.666 -0.123\\ -1.588 -0.092\\ -1.521 -0.164\\ -1.431 -0.123\\ -1.364 -0.144\\ -1.286 -0.164\\ -1.2 -0.185\\ -1.851 -0.247\\ -1.913 -0.295\\ -2.036 -0.258\\ -1.997 -0.309\\ -2.075 -0.278\\ -1.778 -0.268\\ -1.694 -0.309\\ -1.644 -0.289\\ -1.543 -0.289\\ -1.476 -0.247\\ -1.398 -0.268\\ -1.308 -0.268\\ -1.14 -0.206\\ -1.93 -0.372\\ -1.991 -0.403\\ -1.79 -0.392\\ -1.711 -0.361\\ -1.644 -0.413\\ -1.554 -0.403\\ -1.465 -0.372\\ -1.33 -0.392\\ -1.23 -0.351\\ -1.162 -0.309\\ -1.974 -0.486\\ -1.935 -0.496\\ -1.734 -0.454\\ -1.627 -0.496\\ -1.532 -0.517\\ -1.409 -0.475\\ -1.319 -0.486\\ -1.185 -0.454\\ -1.84 -0.579\\ -1.907 -0.579\\ -1.61 -0.568\\ -1.532 -0.579\\ -1.431 -0.537\\ -1.353 -0.558\\ -1.252 -0.537\\ -1.969 -0.641\\ -2.008 -0.651\\ -2.03 -0.682\\ -1.969 -0.703\\ -1.89 -0.662\\ -1.84 -0.631\\ -1.75 -0.651\\ -1.655 -0.693\\ -1.594 -0.647\\ -1.538 -0.724\\ -1.454 -0.683\\ -1.364 -0.662\\ -1.308 -0.641\\ -1.168 -0.6\\ -1.23 -0.703\\ -1.162 -0.672\\ -2.053 -0.755\\ -2.019 -0.796\\ -1.946 -0.827\\ -1.885 -0.786\\ -1.829 -0.738\\ -1.756 -0.724\\ -1.761 -0.827\\ -1.689 -0.807\\ -1.42 -0.765\\ -1.342 -0.807\\ -1.258 -0.796\\ -1.14 -0.807\\ -2.064 -0.896\\ -1.829 -0.879\\ -1.868 -0.92\\ -1.75 -0.931\\ -1.627 -0.865\\ -1.532 -0.911\\ -1.431 -0.869\\ -1.364 -0.952\\ -1.622 -0.942\\ -1.218 -0.869\\ -2.025 -0.998\\ -1.98 -0.979\\ -1.924 -0.987\\ -1.756 -0.993\\ -1.61 -1.024\\ -1.51 -1.014\\ -1.42 -0.993\\ -1.308 -1.004\\ -1.162 -0.993\\ -1.067 -1.014\\ -2.076 -1.122\\ -1.821 -1.082\\ -1.845 -1.128\\ -1.711 -1.118\\ -1.627 -1.138\\ -1.532 -1.128\\ -1.431 -1.097\\ -1.33 -1.118\\ -1.218 -1.097\\ -1.991 -1.159\\ -1.918 -1.163\\ -1.997 -1.2\\ -1.734 -1.2\\ -1.677 -1.242\\ -1.795 -1.263\\ -1.57 -1.242\\ -1.521 -1.232\\ -1.386 -1.19\\ -1.33 -1.242\\ -1.185 -1.221\\ -1.907 -1.288\\ -1.944 -1.319\\ -1.991 -1.381\\ -1.644 -1.315\\ -1.70 -1.387\\ -1.599 -1.398\\ -1.465 -1.283\\ -1.398 -1.283\\ -1.42 -1.377\\ -1.21 -1.319\\ -1.129 -1.367\\ -1.823 -1.408\\ -1.778 -1.449\\ -1.932 -1.474\\ -1.308 -1.397\\ -1.235 -1.408\\ -1.174 -1.429\\ -1.493 -1.428\\ -1.554 -1.48\\ -1.358 -1.439\\ -1.319 -1.491\\ -1.42 -1.511\\ -1.364 -1.557\\ -1.725 -1.528\\ -1.633 -1.542\\ -1.571 -1.574\\ -1.935 -1.619\\ -1.599 -1.636\\ -1.497 -1.636\\ -1.207 -1.563\\ -1.224 -1.636\\ -1.106 -1.522\\ -1.823 -1.727\\ -1.594 -1.719\\ -1.498 -1.698\\ -1.442 -1.719\\ -1.345 -1.719\\ -1.241 -1.687\\ -1.14 -1.719\\ -2.075 -1.719\\
1.337 1.783\\ 1.414 1.799\\ 1.582 1.765\\ 1.727 1.765\\ 1.817 1.788\\ 1.91 1.804\\ 1.965 1.746\\ 1.436 1.719\\ 1.358 1.673\\ 1.537 1.622\\ 1.663 1.615\\ 1.845 1.615\\ 2.135 1.62\\ 2.278 1.592\\ 1.324 1.604\\ 1.369 1.546\\ 1.542 1.516\\ 1.615 1.539\\ 1.727 1.477\\ 1.772 1.523\\ 2.198 1.489\\ 1.447 1.443\\ 1.374 1.408\\ 1.498 1.408\\ 1.625 1.385\\ 1.828 1.357\\ 1.929 1.401\\ 1.324 1.339\\ 1.458 1.339\\ 1.514 1.339\\ 1.66 1.304\\ 1.727 1.293\\ 1.862 1.27\\ 2.013 1.304\\ 1.962 1.247\\ 1.29 1.258\\ 1.212 1.281\\ 1.391 1.258\\ 1.514 1.212\\ 1.565 1.235\\ 1.654 1.224\\ 1.839 1.182\\ 1.862 1.148\\ 2.203 1.265\\ 2.231 1.212\\ 1.425 1.166\\ 1.313 1.166\\ 1.234 1.15\\ 1.548 1.143\\ 1.593 1.143\\ 1.699 1.166\\ 2.03 1.143\\ 2.088 1.12\\ 2.216 1.079\\ 2.302 1.102\\ 2.312 1.189\\ 2.413 1.311\\ 2.397 1.454\\ 1.47 1.074\\ 1.346 1.074\\ 1.212 1.097\\ 1.638 1.074\\ 1.794 1.063\\ 1.891 1.047\\ 1.677 1.04\\ 2.018 1.051\\ 2.086 1.017\\ 2.119 1.0\\ 1.968 0.982\\ 1.918 0.947\\ 1.391 0.982\\ 1.279 0.982\\ 1.526 0.97\\ 1.615 0.947\\ 1.722 0.982\\ 1.794 0.959\\ 1.828 0.901\\ 2.099 0.858\\ 2.383 0.848\\ 1.47 0.913\\ 1.369 0.913\\ 1.716 0.89\\ 1.8 0.832\\ 1.856 0.821\\ 1.934 0.832\\ 1.906 0.855\\ 1.694 0.786\\ 1.582 0.798\\ 1.458 0.821\\ 1.324 0.809\\ 1.761 0.77\\ 1.912 0.77\\ 2.018 0.752\\ 2.063 0.74\\ 2.147 0.687\\ 2.416 0.676\\ 1.66 0.683\\ 1.47 0.706\\ 1.358 0.683\\ 1.257 0.729\\ 1.761 0.694\\ 1.828 0.664\\ 1.727 0.637\\ 1.548 0.66\\ 1.94 0.66\\ 1.996 0.66\\ 2.074 0.66\\ 2.259 0.63\\ 1.279 0.637\\ 1.19 0.602\\ 1.436 0.591\\ 1.57 0.591\\ 1.94 0.579\\ 2.03 0.591\\ 1.772 0.572\\ 1.302 0.544\\ 1.134 0.522\\ 1.612 0.533\\ 1.733 0.544\\ 1.727 0.487\\ 1.806 0.533\\ 2.003 0.494\\ 2.17 0.542\\ 2.259 0.51\\ 2.31 0.475\\ 2.08 0.51\\ 2.114 0.475\\ 2.128 0.418\\ 1.89 0.475\\ 1.839 0.475\\ 1.268 0.452\\ 1.436 0.452\\ 1.47 0.452\\ 1.638 0.418\\ 1.716 0.429\\ 1.893 0.418\\ 1.985 0.418\\ 1.929 0.379\\ 2.22 0.383\\ 2.276 0.388\\ 2.349 0.395\\ 2.237 0.337\\ 1.783 0.383\\ 1.324 0.337\\ 1.402 0.314\\ 1.537 0.372\\ 2.018 0.291\\ 2.153 0.326\\ 1.926 0.287\\ 1.828 0.303\\ 1.212 0.268\\ 2.433 0.28\\ 1.738 0.245\\ 1.806 0.245\\ 2.125 0.268\\ 1.615 0.245\\ 1.481 0.222\\ 1.895 0.199\\ 2.0 0.211\\ 2.08 0.211\\ 2.214 0.188\\ 2.282 0.199\\ 1.246 0.176\\ 1.38 0.199\\ 1.716 0.165\\ 1.839 0.153\\ 1.951 0.153\\ 2.108 0.153\\ 2.203 0.13\\ 2.31 0.118\\ 2.354 0.096\\ 1.582 0.153\\ 1.503 0.142\\ 1.649 0.142\\ 1.783 0.142\\ 1.884 0.13\\ 1.951 0.072\\ 2.046 0.084\\ 2.11 0.022\\ 2.375 0.033\\ 2.366 -0.008\\ 1.458 0.049\\ 1.772 0.049\\ 2.024 0.027\\ 1.974 0.015\\ 1.839 0.061\\ 1.884 0.0\\ 1.66 0.015\\ 1.548 0.027\\ 1.358 0.015\\ 1.946 -0.043\\ 1.89 -0.059\\ 2.108 -0.066\\ 1.526 -0.066\\ 1.436 -0.043\\ 1.772 -0.054\\ 1.828 -0.077\\ 1.906 -0.135\\ 1.738 -0.123\\ 2.024 -0.146\\ 2.119 -0.123\\ 2.203 -0.123\\ 2.248 -0.089\\ 2.363 -0.126\\ 1.481 -0.123\\ 1.615 -0.142\\ 1.66 -0.146\\ 1.402 -0.169\\ 1.458 -0.204\\ 1.514 -0.204\\ 1.582 -0.192\\ 1.75 -0.204\\ 1.862 -0.204\\ 2.304 -0.204\\ 2.265 -0.227\\ 1.806 -0.25\\ 1.946 -0.257\\ 2.25 -0.257\\ 1.682 -0.238\\ 1.626 -0.284\\ 1.548 -0.307\\ 2.086 -0.307\\ 2.147 -0.303\\ 2.203 -0.296\\ 1.38 -0.296\\ 1.223 -0.284\\ 1.946 -0.312\\ 1.996 -0.347\\ 1.902 -0.376\\ 1.75 -0.319\\ 2.181 -0.353\\ 2.27 -0.36\\ 2.332 -0.365\\ 1.408 -0.342\\ 1.481 -0.376\\ 1.66 -0.4\\ 1.783 -0.4\\ 1.951 -0.418\\ 2.405 -0.439\\ 2.293 -0.434\\ 1.1 -0.4\\ 1.604 -0.434\\ 2.175 -0.464\\ 2.069 -0.446\\ 2.002 -0.48\\ 1.884 -0.469\\ 1.811 -0.469\\ 1.705 -0.492\\ 1.503 -0.469\\ 1.559 -0.492\\ 2.354 -0.526\\ 2.416 -0.549\\ 1.794 -0.526\\ 2.018 -0.526\\ 2.063 -0.572\\ 2.203 -0.561\\ 2.226 -0.577\\ 2.31 -0.577\\ 1.906 -0.561\\ 1.862 -0.584\\ 1.626 -0.561\\ 1.548 -0.584\\ 2.158 -0.607\\ 1.682 -0.607\\ 1.436 -0.584\\ 2.377 -0.634\\ 2.114 -0.66\\ 1.526 -0.664\\ 1.957 -0.641\\ 1.839 -0.676\\ 1.615 -0.676\\ 2.035 -0.715\\ 2.094 -0.726\\ 2.164 -0.722\\ 2.424 -0.713\\ 1.492 -0.722\\ 1.794 -0.699\\ 1.884 -0.699\\ 1.906 -0.676\\ 1.75 -0.756\\ 1.873 -0.756\\ 1.593 -0.745\\ 1.369 -0.745\\ 2.136 -0.807\\ 1.694 -0.768\\ 1.447 -0.779\\ 1.99 -0.807\\ 1.892 -0.83\\ 1.335 -0.83\\ 2.27 -0.86\\ 2.159 -0.876\\ 1.951 -0.848\\ 2.097 -0.917\\ 1.705 -0.865\\ 1.654 -0.894\\ 1.582 -0.894\\ 1.481 -0.86\\ 1.862 -0.906\\ 1.772 -0.917\\ 1.951 -0.906\\ 1.346 -0.906\\ 1.436 -0.906\\ 1.279 -0.968\\ 1.206 -0.952\\ 2.189 -0.964\\ 2.282 -0.971\\ 1.862 -0.971\\ 2.052 -0.987\\ 2.17 -1.021\\ 1.906 -0.98\\ 1.548 -0.987\\ 1.481 -0.987\\ 1.66 -0.987\\ 1.694 -1.056\\ 1.815 -1.033\\ 1.951 -1.033\\ 2.052 -1.056\\ 1.979 -1.067\\ 1.346 -1.021\\ 1.425 -1.058\\ 1.199 -1.028\\ 2.018 -1.102\\ 1.884 -1.109\\ 1.783 -1.148\\ 1.514 -1.09\\ 1.66 -1.102\\ 1.268 -1.067\\ 1.324 -1.113\\ 2.08 -1.159\\ 2.153 -1.159\\ 2.173 -1.201\\ 2.016 -1.196\\ 1.436 -1.159\\ 1.57 -1.159\\ 1.654 -1.159\\ 1.223 -1.102\\ 1.19 -1.159\\ 1.705 -1.217\\ 1.492 -1.206\\ 1.369 -1.235\\ 1.313 -1.228\\ 1.593 -1.251\\ 2.318 -1.194\\ 2.27 -1.251\\ 1.899 -1.263\\ 2.054 -1.279\\ 2.203 -1.339\\ 2.248 -1.321\\ 2.27 -1.355\\ 2.354 -1.291\\ 2.433 -1.362\\ 2.411 -1.429\\ 1.442 -1.314\\ 1.727 -1.309\\ 1.8 -1.339\\ 1.694 -1.355\\ 1.893 -1.374\\ 2.041 -1.403\\ 2.112 -1.484\\ 2.127 -1.544\\ 2.351 -1.53\\ 2.234 -1.595\\ 1.604 -1.408\\ 1.537 -1.355\\ 1.537 -1.482\\ 1.498 -1.459\\ 1.408 -1.413\\ 1.346 -1.459\\ 1.268 -1.493\\ 1.75 -1.447\\ 1.794 -1.532\\ 1.738 -1.562\\ 1.66 -1.482\\ 1.705 -1.447\\ 1.876 -1.539\\ 1.85 -1.505\\ 1.766 -1.631\\ 1.926 -1.661\\ 2.157 -1.714\\ 1.615 -1.654\\ 1.537 -1.631\\ 1.47 -1.654\\ 1.464 -1.712\\ 1.358 -1.666\\ 1.246 -1.689\\ 1.649 -1.758\\ 1.335 -1.753\\ 1.195 -1.569\\ 1.223 -1.569\\
-1.10 -1.3\\ -1.05 -1.42\\ -0.98 -1.25\\ -0.93 -1.38\\ -0.9 -1.52\\ -0.85 -1.3\\ -0.8 -1.45\\ -0.75 -1.58\\ -0.72 -1.36\\ -0.66 -1.5\\ -0.6 -1.42\\ -0.55 -1.56\\ -0.5 -1.47\\ -0.44 -1.6\\ -0.4 -1.5\\ -0.34 -1.56\\ -0.28 -1.48\\ -0.22 -1.54\\ -0.16 -1.6\\ -0.1 -1.5\\ -0.05 -1.57\\ 0.02 -1.48\\ 0.08 -1.6\\ 0.13 -1.53\\ 0.2 -1.47\\ 0.25 -1.58\\ 0.32 -1.5\\ 0.38 -1.58\\ 0.44 -1.45\\ 0.5 -1.55\\ 0.55 -1.4\\ 0.6 -1.5\\ 0.66 -1.58\\ 0.7 -1.36\\ 0.76 -1.46\\ 0.82 -1.55\\ 0.87 -1.3\\ 0.92 -1.42\\ 0.98 -1.52\\ 1.02 -1.25\\ 1.07 -1.38\\ 1.12 -1.5\\ 1.13 -1.1\\ 1.16 -1.3\\ 1.1 -0.9\\ 1.12 -0.75\\ 1.16 -0.6\\ 1.2 -0.8\\ 1.24 -0.65\\ 1.18 -0.45\\ 1.27 -0.48\\ 1.14 -0.25\\ 1.3 -0.3\\ 1.16 -0.1\\ 1.25 -0.12\\ 1.32 -0.13\\ 1.12 0.05\\ 1.22 0.08\\ 1.3 0.06\\ 1.15 0.2\\ 1.3 0.22\\ 1.12 0.35\\ 1.2 0.4\\ 1.36 0.4\\ 1.15 0.7\\ 1.22 0.85\\ 1.13 0.95\\ 1.1 1.1\\ 1.15 1.2\\ 1.0 1.2\\ 1.05 1.05\\ 0.92 1.18\\ 0.82 1.27\\ 0.75 1.4\\ 0.64 1.45\\ 0.5 1.48\\ 0.36 1.5\\ 0.22 1.55\\ 0.12 1.5\\ -0.02 1.52\\ -0.15 1.53\\ -0.3 1.54\\ -0.42 1.48\\ -0.55 1.48\\ -0.66 1.4\\ -0.75 1.35\\ -0.85 1.28\\ -0.95 1.2\\ -1.05 1.15\\ -1.1 0.95\\ -1.15 0.85\\ -1.2 0.7\\ -1.22 -0.75\\ -1.16 -0.85\\ -1.1 -1.0\\ -1.05 -1.15\\
-1.2 1.45\\ -1.05 1.45\\ -0.92 1.45\\ -1.15 1.38\\ -0.8 1.38\\ -0.72 1.38\\ -1.28 1.3\\ -1.2 1.3\\ -1.12 1.3\\ -1.02 1.3\\ -0.93 1.3\\ -1.33 1.22\\ -1.25 1.22\\ -1.17 1.22\\ -1.08 1.22\\ -1.28 1.14\\ -1.2 1.14\\ -1.12 1.14\\ -1.26 1.06\\ -1.18 1.06\\ -1.1 1.06\\ -1.22 0.98\\ -1.15 0.98\\ -1.08 0.98\\ -1.24 0.9\\ -1.16 0.9\\ -1.4 0.82\\ -1.21 0.82\\ -1.13 0.82\\ -1.3 0.74\\ -1.22 0.74\\ -1.14 0.74\\ -1.44 0.66\\ -1.37 0.66\\ -1.2 0.66\\ -1.6 0.58\\ -1.26 0.58\\ -1.2 0.58\\ -1.52 0.5\\ -1.33 0.5\\ -1.58 0.44\\ -1.28 0.44\\ -1.6 0.3\\ -1.47 0.3\\ -1.4 0.3\\ -1.55 0.18\\ -1.42 0.18\\ -1.36 0.18\\ -1.65 0.1\\ -1.52 0.1\\ -1.3 0.1\\ -1.6 -0.05\\ -1.4 -0.05\\ -1.32 -0.05\\ -1.7 -0.1\\ -1.48 -0.1\\ -1.6 -0.2\\ -1.47 -0.2\\ -1.33 -0.2\\ -1.58 -0.33\\ -1.4 -0.33\\ -1.26 -0.33\\ -1.47 -0.44\\ -1.36 -0.44\\ -1.48 -0.6\\ -1.39 -0.6\\ -1.3 -0.6\\ -1.6 -0.75\\ -1.5 -0.75\\ -1.36 -0.75\\ -1.48 -0.85\\ -1.3 -0.85\\ -1.47 -0.95\\ -1.25 -0.95\\ -1.37 -1.05\\ -1.26 -1.05\\ -1.17 -1.05\\ -1.47 -1.15\\ -1.38 -1.15\\ -1.14 -1.15\\ -1.08 -1.15\\ -1.26 -1.25\\ -1.14 -1.25\\ -1.05 -1.25\\ -0.95 -1.25\\ -1.3 -1.35\\ -1.05 -1.35\\ -0.96 -1.35\\ -0.88 -1.35\\ -1.26 -1.45\\ -1.0 -1.45\\ -0.9 -1.45\\ -1.15 -1.55\\ -1.0 -1.55\\ -0.9 -1.55\\ -0.8 -1.55\\ -1.3 -1.62\\ -1.0 -1.62\\ -0.72 -1.62\\ -0.6 -1.62\\
1.1 1.28\\ 1.18 1.28\\ 1.05 1.2\\ 1.22 1.2\\ 1.3 1.2\\ 1.12 1.12\\ 1.27 1.12\\ 1.05 1.05\\ 1.17 1.05\\ 1.28 1.05\\ 1.4 1.05\\ 1.08 0.96\\ 1.17 0.96\\ 1.44 0.96\\ 1.14 0.88\\ 1.28 0.88\\ 1.4 0.88\\ 1.55 0.88\\ 1.1 0.78\\ 1.18 0.78\\ 1.39 0.78\\ 1.5 0.78\\ 1.16 0.7\\ 1.24 0.7\\ 1.55 0.7\\ 1.12 0.62\\ 1.36 0.62\\ 1.5 0.62\\ 1.2 0.52\\ 1.38 0.52\\ 1.5 0.52\\ 1.66 0.52\\ 1.13 0.44\\ 1.34 0.44\\ 1.55 0.44\\ 1.17 0.34\\ 1.25 0.34\\ 1.45 0.34\\ 1.6 0.34\\ 1.13 0.26\\ 1.3 0.26\\ 1.5 0.26\\ 1.56 0.26\\ 1.18 0.16\\ 1.32 0.16\\ 1.44 0.16\\ 1.4 0.08\\ 1.55 0.08\\ 1.7 0.08\\ 1.14 -0.02\\ 1.24 -0.02\\ 1.34 -0.02\\ 1.6 -0.02\\ 1.18 -0.08\\ 1.3 -0.08\\ 1.7 -0.08\\ 1.14 -0.18\\ 1.25 -0.18\\ 1.33 -0.18\\ 1.3 -0.28\\ 1.46 -0.28\\ 1.58 -0.28\\ 1.15 -0.38\\ 1.24 -0.38\\ 1.32 -0.38\\ 1.55 -0.38\\ 1.14 -0.5\\ 1.22 -0.5\\ 1.34 -0.5\\ 1.42 -0.5\\ 1.14 -0.58\\ 1.3 -0.58\\ 1.38 -0.58\\ 1.16 -0.68\\ 1.3 -0.68\\ 1.42 -0.68\\ 1.7 -0.68\\ 1.12 -0.78\\ 1.26 -0.78\\ 1.36 -0.78\\ 1.54 -0.78\\ 1.14 -0.88\\ 1.2 -0.88\\ 1.28 -0.88\\ 1.4 -0.88\\ 1.1 -0.98\\ 1.16 -0.98\\ 1.4 -0.98\\ 1.6 -0.98\\ 1.12 -1.08\\ 1.38 -1.08\\ 1.6 -1.08\\ 1.08 -1.18\\ 1.26 -1.18\\ 1.37 -1.18\\ 1.52 -1.18\\ 1.0 -1.3\\ 1.1 -1.3\\ 1.22 -1.3\\ 1.34 -1.3\\ 1.02 -1.4\\ 1.14 -1.4\\ 1.26 -1.4\\ 0.94 -1.5\\ 1.06 -1.5\\ 1.16 -1.5\\ 0.7 -1.6\\ 0.84 -1.6\\ 0.96 -1.6\\ 1.08 -1.6\\ 1.3 -1.6\\
-0.7 1.72\\ -0.6 1.72\\ -0.3 1.72\\ -0.15 1.72\\ 0.05 1.72\\ 0.18 1.72\\ 0.4 1.72\\ 0.63 1.72\\ -0.52 1.8\\ -0.38 1.8\\ -0.3 1.8\\ 0.02 1.8\\ 0.16 1.8\\ 0.3 1.8\\ 0.45 1.8\\ 0.62 1.8\\ 0.9 1.8\\ -0.45 1.88\\ -0.34 1.88\\ -0.12 1.88\\ 0.16 1.88\\ 0.34 1.88\\ 0.6 1.88\\ -0.5 -1.65\\ -0.2 -1.65\\ -0.08 -1.65\\ 0.12 -1.65\\ 0.22 -1.65\\ 0.5 -1.65\\ 0.68 -1.65\\ -0.6 -1.72\\ -0.25 -1.72\\ -0.08 -1.72\\ 0.13 -1.72\\ 0.3 -1.72\\ 0.66 -1.72\\ -0.5 -1.8\\ -0.18 -1.8\\ 0.03 -1.8\\ 0.2 -1.8\\ 0.5 -1.8\\
};
\end{axis}
\end{tikzpicture}
\end{document}
